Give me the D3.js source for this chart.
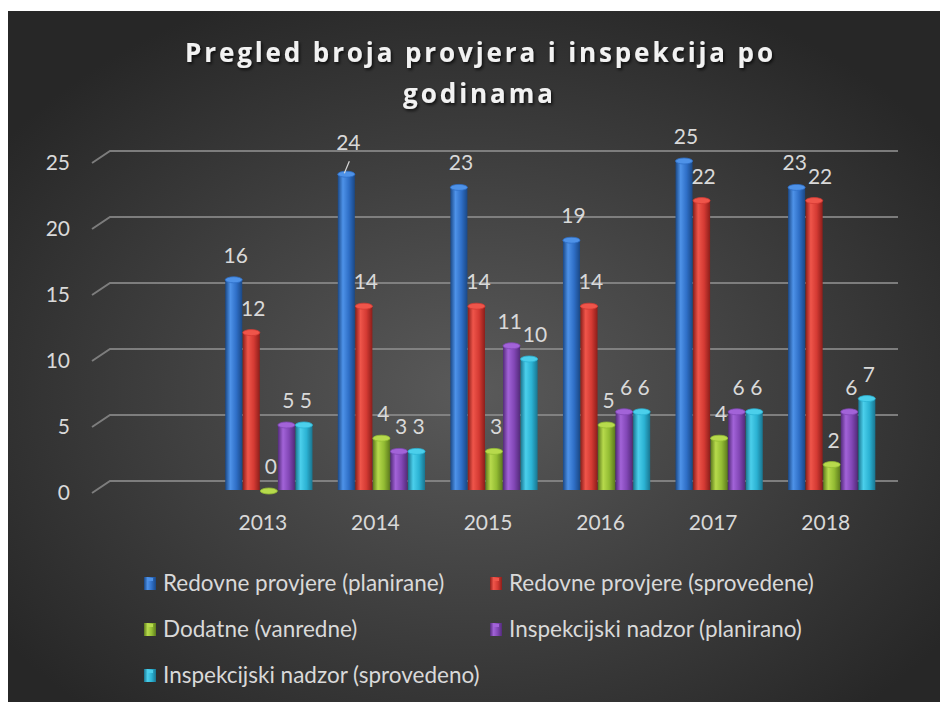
<!DOCTYPE html>
<html>
<head>
<meta charset="utf-8">
<script src="https://cdn.jsdelivr.net/npm/d3@7"></script>
<style>
  html, body { margin: 0; padding: 0; background: #ffffff; }
  svg { display: block; }
</style>
</head>
<body>
<script>
var width = 940;
var height = 702;

// data
var years = ['2013', '2014', '2015', '2016', '2017', '2018'];
var seriesNames = [
  'Redovne provjere (planirane)',
  'Redovne provjere (sprovedene)',
  'Dodatne (vanredne)',
  'Inspekcijski nadzor (planirano)',
  'Inspekcijski nadzor (sprovedeno)'
];
var planirane = [16, 24, 23, 19, 25, 23];
var sprovedene = [12, 14, 14, 14, 22, 22];
var dodatne = [0, 4, 3, 5, 4, 2];
var nadzorPlanirano = [5, 3, 11, 6, 6, 6];
var nadzorSprovedeno = [5, 3, 10, 6, 6, 7];
var yTicks = [0, 5, 10, 15, 20, 25];

var series = [planirane, sprovedene, dodatne, nadzorPlanirano, nadzorSprovedeno];
var colors = [
  { base: '#2f6fc7', light: '#4e92e8', dark: '#1a4886' },
  { base: '#d43a33', light: '#ef554a', dark: '#8c1e1a' },
  { base: '#93bc33', light: '#b7da4c', dark: '#5d7b1d' },
  { base: '#8247b6', light: '#a263d8', dark: '#532b7a' },
  { base: '#2bb2d3', light: '#4bcfeb', dark: '#197590' }
];

var svg = d3.select('body')
            .append('svg')
            .attr('width', width)
            .attr('height', height);

var defs = svg.append('defs');

var bg = defs.append('radialGradient')
             .attr('id', 'bg')
             .attr('cx', '50%')
             .attr('cy', '55%')
             .attr('r', '62%');
bg.append('stop').attr('offset', '0%').attr('stop-color', '#5a5a5a');
bg.append('stop').attr('offset', '100%').attr('stop-color', '#272727');

colors.forEach(function (c, i) {
  var g = defs.append('linearGradient')
              .attr('id', 'bar' + i)
              .attr('x1', '0%').attr('x2', '100%')
              .attr('y1', '0%').attr('y2', '0%');
  g.append('stop').attr('offset', '0%').attr('stop-color', c.dark);
  g.append('stop').attr('offset', '30%').attr('stop-color', c.light);
  g.append('stop').attr('offset', '65%').attr('stop-color', c.base);
  g.append('stop').attr('offset', '100%').attr('stop-color', c.dark);
});

var shadow = defs.append('filter')
                 .attr('id', 'shadow')
                 .attr('x', '-10%').attr('y', '-20%')
                 .attr('width', '130%').attr('height', '160%');
shadow.append('feDropShadow')
      .attr('dx', 1.5).attr('dy', 2)
      .attr('stdDeviation', 1.5)
      .attr('flood-color', '#000')
      .attr('flood-opacity', 0.7);

// chart background
svg.append('rect')
   .attr('x', 8)
   .attr('y', 11)
   .attr('width', width - 8)
   .attr('height', height - 11)
   .attr('fill', 'url(#bg)');

// title
var title = svg.append('g')
               .attr('fill', '#f2f2f2')
               .attr('font-family', '"Open Sans", sans-serif')
               .attr('font-weight', 'bold')
               .attr('font-size', 26)
               .attr('text-anchor', 'middle')
               .attr('filter', 'url(#shadow)');
title.append('text')
     .attr('x', 479)
     .attr('y', 62)
     .attr('textLength', 588)
     .attr('lengthAdjust', 'spacing')
     .text('Pregled broja provjera i inspekcija po');
title.append('text')
     .attr('x', 478)
     .attr('y', 103)
     .attr('textLength', 150)
     .attr('lengthAdjust', 'spacing')
     .text('godinama');

// scales: back wall of the 3D plot, first category left empty
var plot = { left: 110, right: 898, top: 151, bottom: 481 };
var depth = { dx: -18, dy: 12 };
var barShift = { dx: -10, dy: 8 };

var xScale = d3.scaleBand()
               .domain([''].concat(years))
               .range([plot.left, plot.right]);

var yScale = d3.scaleLinear()
               .domain([0, 25])
               .range([plot.bottom, plot.top]);

var xSub = d3.scaleBand()
             .domain(d3.range(series.length))
             .range([0, xScale.bandwidth() * 0.775])
             .paddingInner(0.03);

// gridlines with floor edge
var grid = svg.append('g')
              .attr('fill', 'none')
              .attr('stroke', '#8a8a8a')
              .attr('stroke-width', 2)
              .attr('stroke-opacity', 0.85);
grid.selectAll('path')
    .data(yTicks)
    .enter()
    .append('path')
    .attr('d', function (d) {
      var y = yScale(d);
      return 'M' + (plot.left + depth.dx) + ',' + (y + depth.dy) +
             'L' + plot.left + ',' + y + 'L' + plot.right + ',' + y;
    });

// y axis labels
var yAxis = d3.axisLeft(yScale)
              .tickValues(yTicks)
              .tickSize(0)
              .tickPadding(0);
var yAxisG = svg.append('g')
                .attr('transform', 'translate(70,' + depth.dy + ')')
                .call(yAxis);
yAxisG.select('.domain').remove();
yAxisG.selectAll('text')
      .attr('fill', '#d9d9d9')
      .attr('font-family', 'Lato, sans-serif')
      .attr('font-size', 21);

// x axis labels
var xAxis = d3.axisBottom(xScale)
              .tickValues(years)
              .tickSize(0)
              .tickPadding(0);
var xAxisG = svg.append('g')
                .attr('transform', 'translate(' + (depth.dx + 2) + ',' + (plot.bottom + 34) + ')')
                .call(xAxis);
xAxisG.select('.domain').remove();
xAxisG.selectAll('text')
      .attr('fill', '#d9d9d9')
      .attr('font-family', 'Lato, sans-serif')
      .attr('font-size', 21);

// bars
var barData = [];
series.forEach(function (vals, s) {
  vals.forEach(function (v, i) {
    barData.push({ s: s, year: years[i], value: v });
  });
});

var bw = xSub.bandwidth();
function barX(d) {
  return xScale(d.year) + xScale.bandwidth() * 0.1125 + xSub(d.s) + barShift.dx;
}
function barTop(d) {
  return yScale(d.value) + barShift.dy + 2;
}
var floorY = yScale(0) + barShift.dy + 1;

var bars = svg.selectAll('.bar')
              .data(barData)
              .enter()
              .append('g')
              .attr('class', 'bar');

bars.append('rect')
    .attr('x', barX)
    .attr('y', barTop)
    .attr('width', bw)
    .attr('height', function (d) {
      return Math.max(0, floorY - barTop(d));
    })
    .attr('fill', function (d) { return 'url(#bar' + d.s + ')'; });

bars.append('ellipse')
    .attr('cx', function (d) { return barX(d) + bw / 2; })
    .attr('cy', barTop)
    .attr('rx', bw / 2)
    .attr('ry', 3)
    .attr('fill', function (d) { return colors[d.s].light; })
    .attr('stroke', function (d) { return colors[d.s].base; })
    .attr('stroke-width', 0.8);

// data labels
var labels = svg.append('g')
                .attr('fill', '#d9d9d9')
                .attr('font-family', 'Lato, sans-serif')
                .attr('font-size', 21)
                .attr('text-anchor', 'middle');

var labelText = labels.selectAll('text')
      .data(barData)
      .enter()
      .append('text')
      .attr('x', function (d) { return barX(d) + bw / 2 + 2; })
      .attr('y', function (d) {
        var lift = (d.s === 0 && d.year === '2014') ? 24 : 17;
        return barTop(d) - lift;
      })
      .text(function (d) { return d.value; });

// push apart neighbouring labels of one year that collide
years.forEach(function (yr) {
  var nodes = labelText.filter(function (d) { return d.year === yr; }).nodes();
  for (var k = 1; k < nodes.length; k++) {
    var a = nodes[k - 1].getBBox();
    var b = nodes[k].getBBox();
    var overlapX = a.x + a.width - b.x;
    var overlapY = Math.min(a.y + a.height, b.y + b.height) - Math.max(a.y, b.y);
    if (overlapX > 0 && overlapY > 0) {
      var shift = overlapX / 2 + 0.5;
      d3.select(nodes[k - 1]).attr('x', +d3.select(nodes[k - 1]).attr('x') - shift);
      d3.select(nodes[k]).attr('x', +d3.select(nodes[k]).attr('x') + shift);
    }
  }
});

// leader line of the label pushed above the top gridline
var lead = barData.filter(function (d) { return d.s === 0 && d.year === '2014'; })[0];
svg.append('line')
   .attr('x1', barX(lead) + bw / 2 - 2)
   .attr('y1', barTop(lead) - 1)
   .attr('x2', barX(lead) + bw / 2 + 3)
   .attr('y2', barTop(lead) - 13)
   .attr('stroke', '#d9d9d9')
   .attr('stroke-width', 1.2);

// legend
var legendPos = [
  { x: 144, y: 583 }, { x: 490, y: 583 },
  { x: 144, y: 629 }, { x: 490, y: 629 },
  { x: 144, y: 675 }
];
var legend = svg.selectAll('.legend')
                .data(seriesNames)
                .enter()
                .append('g')
                .attr('class', 'legend')
                .attr('transform', function (d, i) {
                  return 'translate(' + legendPos[i].x + ',' + legendPos[i].y + ')';
                });
legend.append('rect')
      .attr('x', 0)
      .attr('y', -6)
      .attr('width', 12)
      .attr('height', 13)
      .attr('fill', function (d, i) { return 'url(#bar' + i + ')'; });
legend.append('rect')
      .attr('x', 3)
      .attr('y', -5)
      .attr('width', 6)
      .attr('height', 3)
      .attr('fill', function (d, i) { return colors[i].light; });
legend.append('text')
      .attr('x', 19)
      .attr('y', 0)
      .attr('dy', '0.35em')
      .attr('fill', '#d9d9d9')
      .attr('font-family', 'Lato, sans-serif')
      .attr('font-size', 22.5)
      .text(function (d) { return d; });
</script>
</body>
</html>
